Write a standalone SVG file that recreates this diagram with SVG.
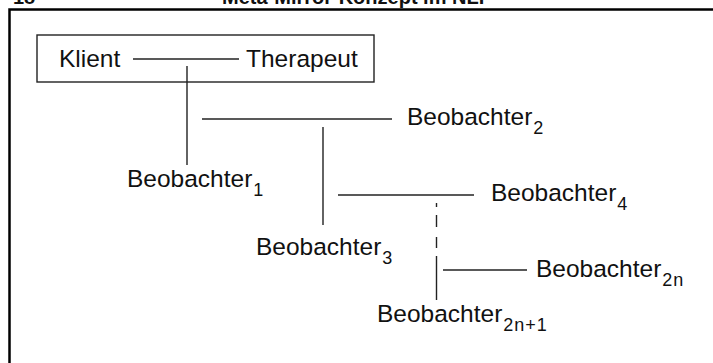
<svg xmlns="http://www.w3.org/2000/svg" width="713" height="363" viewBox="0 0 713 363">
<style>
text{font-family:"Liberation Sans",Arial,sans-serif;fill:#111}
.lbl{font-size:24.5px}
.sub{font-size:18px;letter-spacing:1px}
.hd{font-size:20px;font-weight:bold}
.ln{stroke:#222;stroke-width:1.4;fill:none}
.frame{stroke:#000;stroke-width:2.5;fill:none}
</style>
<rect width="713" height="363" fill="#fff"/>
<text class="hd" x="13" y="4">18</text>
<text class="hd" x="222" y="4">Meta-Mirror-Konzept im NLP</text>
<path class="frame" d="M9.5,363 V9.5 H713"/>
<g id="dyad">
<rect x="37" y="35" width="337" height="47" fill="none" stroke="#222" stroke-width="1.4"/>
<text class="lbl" x="59" y="67">Klient</text>
<text class="lbl" x="246" y="67">Therapeut</text>
</g>
<g id="b1"><text class="lbl" x="127" y="187">Beobachter<tspan class="sub" dx="1" dy="9">1</tspan></text></g>
<g id="b2"><text class="lbl" x="407" y="125">Beobachter<tspan class="sub" dx="1" dy="9">2</tspan></text></g>
<g id="b3"><text class="lbl" x="256" y="255">Beobachter<tspan class="sub" dx="1" dy="9">3</tspan></text></g>
<g id="b4"><text class="lbl" x="491" y="201">Beobachter<tspan class="sub" dx="1" dy="9">4</tspan></text></g>
<g id="b2n"><text class="lbl" x="536" y="277">Beobachter<tspan class="sub" dx="1" dy="9">2n</tspan></text></g>
<g id="b2n1"><text class="lbl" x="377" y="322">Beobachter<tspan class="sub" dx="1" dy="9">2n+1</tspan></text></g>
<g id="connectors">
<path class="ln" d="M133,59 H239"/>
<path class="ln" d="M187,66 V165"/>
<path class="ln" d="M202,119 H392"/>
<path class="ln" d="M323,127 V225"/>
<path class="ln" d="M338,195 H474"/>
<path class="ln" d="M436.5,203 V207 M436.5,215 V227 M436.5,237 V248 M436.5,256 V300"/>
<path class="ln" d="M443,270 H527"/>
</g>
</svg>
